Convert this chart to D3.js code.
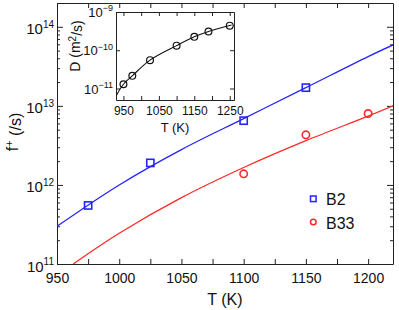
<!DOCTYPE html>
<html>
<head>
<meta charset="utf-8">
<script src="https://cdn.jsdelivr.net/npm/d3@7"></script>
<style>
  body { margin: 0; background: #fff; }
  svg { font-family: "Liberation Sans", Arial, sans-serif; }
  .axis path, .axis line { stroke: #222; }
</style>
</head>
<body>
<svg id="chart" width="399" height="310"></svg>
<script>
// main plot: attempt frequency vs temperature
var tB2 = [975, 1025, 1100, 1150];
var fB2 = [5.5e11, 1.9e12, 6.5e12, 1.7e13];
var tB33 = [1100, 1150, 1200];
var fB33 = [1.38e12, 4.3e12, 8.0e12];

// fitted curves
var fitB2T = [950, 1000, 1050, 1100, 1150, 1200, 1220];
var fitB2F = [3.0e11, 1.0e12, 2.8e12, 6.9e12, 1.7e13, 4.2e13, 5.9e13];
var fitB33T = [963, 1000, 1050, 1100, 1150, 1200, 1220];
var fitB33F = [1.0e11, 2.45e11, 6.9e11, 1.66e12, 3.63e12, 7.41e12, 1.0e13];

var xMajor = [950, 1000, 1050, 1100, 1150, 1200];
var xMinor = [975, 1025, 1075, 1125, 1175];
var yDecades = [1e11, 1e12, 1e13, 1e14];

// inset: diffusivity
var tD = [950, 975, 1025, 1100, 1150, 1190, 1250];
var dD = [1.29e-11, 2.14e-11, 5.5e-11, 1.32e-10, 2.24e-10, 3.1e-10, 4.4e-10];
var fitDT = [930, 950, 975, 1025, 1100, 1150, 1190, 1255];
var fitDD = [6.6e-12, 1.29e-11, 2.14e-11, 5.5e-11, 1.32e-10, 2.24e-10, 3.1e-10, 4.55e-10];
var insetXTicks = [950, 1050, 1150, 1250];
var insetXAll = [950, 1000, 1050, 1100, 1150, 1200, 1250];
var insetYTicks = [1e-11, 1e-10, 1e-9];

var svg = d3.select("#chart");
var blue = "#2424ff", red = "#ff2a2a";

var mL = 57, mT = 3, mR = 393, mB = 264;
var x = d3.scaleLinear().domain([950, 1220]).range([mL, mR]);
var y = d3.scaleLog().domain([1e11, 2.0e14]).range([mB, mT]);

// minor log ticks
var yMinor = [];
yDecades.forEach(function(d) {
    for (var k = 2; k < 10; k++) {
        var v = d * k;
        if (v < y.domain()[1]) yMinor.push(v);
    }
});

var defs = svg.append("defs");
defs.append("clipPath").attr("id", "clip")
    .append("rect").attr("x", mL).attr("y", mT)
    .attr("width", mR - mL).attr("height", mB - mT);

function supLabel(sel, base, size, supSize, dy) {
    sel.each(function(d) {
        var t = d3.select(this);
        var e = Math.round(Math.log10(d));
        t.text(null).attr("dy", dy).style("font-size", size + "px");
        t.append("tspan").text(base);
        t.append("tspan").attr("dy", "-0.62em").style("font-size", supSize + "px")
            .text(e < 0 ? "\u2212" + (-e) : e);
    });
}

// axes, ticks pointing inward
svg.append("g").attr("class", "axis").attr("transform", "translate(0," + mB + ")")
    .call(d3.axisBottom(x).tickValues(xMajor).tickSizeInner(-5).tickSizeOuter(0).tickPadding(9).tickFormat(d3.format("d")))
    .call(function(g) { g.selectAll("text").style("font-size", "14px").attr("fill", "#111"); });
svg.append("g").attr("class", "axis").attr("transform", "translate(0," + mB + ")")
    .call(d3.axisBottom(x).tickValues(xMinor).tickSize(-5).tickFormat(""))
    .select(".domain").remove();
svg.append("g").attr("class", "axis").attr("transform", "translate(0," + mT + ")")
    .call(d3.axisTop(x).tickValues(xMajor.concat(xMinor)).tickSizeInner(-5).tickSizeOuter(0).tickFormat(""));

var yl = svg.append("g").attr("class", "axis").attr("transform", "translate(" + mL + ",0)")
    .call(d3.axisLeft(y).tickValues(yDecades).tickSizeInner(-6).tickSizeOuter(0).tickPadding(3));
yl.selectAll("text").attr("fill", "#111").call(supLabel, "10", 15, 10, "0.47em");
svg.append("g").attr("class", "axis").attr("transform", "translate(" + mL + ",0)")
    .call(d3.axisLeft(y).tickValues(yMinor).tickSize(-3).tickFormat(""))
    .select(".domain").remove();
svg.append("g").attr("class", "axis").attr("transform", "translate(" + mR + ",0)")
    .call(d3.axisRight(y).tickValues(yDecades).tickSizeInner(-6).tickSizeOuter(0).tickFormat(""));
svg.append("g").attr("class", "axis").attr("transform", "translate(" + mR + ",0)")
    .call(d3.axisRight(y).tickValues(yMinor).tickSize(-3).tickFormat(""))
    .select(".domain").remove();

// axis titles
svg.append("text").attr("x", (mL + mR) / 2).attr("y", 305)
    .attr("text-anchor", "middle").style("font-size", "16px").attr("fill", "#111").text("T (K)");
var yt = svg.append("text").attr("transform", "translate(18,132) rotate(-90)")
    .attr("text-anchor", "middle").style("font-size", "16px").attr("fill", "#111");
yt.append("tspan").text("f");
yt.append("tspan").attr("dy", "-0.5em").style("font-size", "11px").text("+");
yt.append("tspan").attr("dy", "0.5em").text(" (/s)");

// fit lines
var line = d3.line().curve(d3.curveCatmullRom)
    .x(function(d) { return x(d[0]); }).y(function(d) { return y(d[1]); });
var plot = svg.append("g").attr("clip-path", "url(#clip)");
plot.append("path").datum(d3.zip(fitB2T, fitB2F)).attr("d", line)
    .attr("fill", "none").attr("stroke", blue).attr("stroke-width", 1.3);
plot.append("path").datum(d3.zip(fitB33T, fitB33F)).attr("d", line)
    .attr("fill", "none").attr("stroke", red).attr("stroke-width", 1.3);

// markers
svg.append("g").selectAll("rect").data(d3.zip(tB2, fB2)).enter().append("rect")
    .attr("x", function(d) { return x(d[0]) - 3.6; })
    .attr("y", function(d) { return y(d[1]) - 3.6; })
    .attr("width", 7.2).attr("height", 7.2)
    .attr("fill", "none").attr("stroke", blue).attr("stroke-width", 1.6);
svg.append("g").selectAll("circle").data(d3.zip(tB33, fB33)).enter().append("circle")
    .attr("cx", function(d) { return x(d[0]); })
    .attr("cy", function(d) { return y(d[1]); })
    .attr("r", 3.7)
    .attr("fill", "none").attr("stroke", red).attr("stroke-width", 1.6);

// legend
var lg = svg.append("g");
lg.append("rect").attr("x", 310.5).attr("y", 196).attr("width", 5.6).attr("height", 5.6)
    .attr("fill", "none").attr("stroke", blue).attr("stroke-width", 1.5);
lg.append("circle").attr("cx", 313.3).attr("cy", 222).attr("r", 2.8)
    .attr("fill", "none").attr("stroke", red).attr("stroke-width", 1.5);
lg.append("text").attr("x", 326).attr("y", 205).style("font-size", "16px").attr("fill", "#111").text("B2");
lg.append("text").attr("x", 326).attr("y", 228.5).style("font-size", "16px").attr("fill", "#111").text("B33");

// ---- inset ----
var iL = 116, iT = 12, iR = 234, iB = 100;
var ix = d3.scaleLinear().domain([929, 1262]).range([iL, iR]);
var iy = d3.scaleLog().domain([5e-12, 1e-9]).range([iB, iT]);

svg.append("rect").attr("x", iL).attr("y", iT).attr("width", iR - iL).attr("height", iB - iT)
    .attr("fill", "#fff");
defs.append("clipPath").attr("id", "iclip")
    .append("rect").attr("x", iL).attr("y", iT).attr("width", iR - iL).attr("height", iB - iT);

svg.append("g").attr("class", "axis").attr("transform", "translate(0," + iB + ")")
    .call(d3.axisBottom(ix).tickValues(insetXAll).tickSizeInner(-4).tickSizeOuter(0).tickPadding(6)
        .tickFormat(function(d) { return insetXTicks.indexOf(d) > -1 ? d : ""; }))
    .call(function(g) { g.selectAll("text").style("font-size", "12px").attr("fill", "#111"); });
svg.append("g").attr("class", "axis").attr("transform", "translate(0," + iT + ")")
    .call(d3.axisTop(ix).tickValues(insetXAll).tickSizeInner(-4).tickSizeOuter(0).tickFormat(""));
var iyl = svg.append("g").attr("class", "axis").attr("transform", "translate(" + iL + ",0)")
    .call(d3.axisLeft(iy).tickValues(insetYTicks).tickSizeInner(-4).tickSizeOuter(0).tickPadding(3));
iyl.selectAll("text").attr("fill", "#111").call(supLabel, "10", 13, 9, "0.35em");
svg.append("g").attr("class", "axis").attr("transform", "translate(" + iR + ",0)")
    .call(d3.axisRight(iy).tickValues(insetYTicks).tickSizeInner(-4).tickSizeOuter(0).tickFormat(""));

svg.append("text").attr("x", (iL + iR) / 2).attr("y", 132)
    .attr("text-anchor", "middle").style("font-size", "13px").attr("fill", "#111").text("T (K)");
var dt = svg.append("text").attr("transform", "translate(80,46) rotate(-90)")
    .attr("text-anchor", "middle").style("font-size", "14px").attr("fill", "#111");
dt.append("tspan").text("D (m");
dt.append("tspan").attr("dy", "-0.45em").style("font-size", "10px").text("2");
dt.append("tspan").attr("dy", "0.45em").text("/s)");

var iline = d3.line().curve(d3.curveCatmullRom)
    .x(function(d) { return ix(d[0]); }).y(function(d) { return iy(d[1]); });
svg.append("g").attr("clip-path", "url(#iclip)").append("path")
    .datum(d3.zip(fitDT, fitDD)).attr("d", iline)
    .attr("fill", "none").attr("stroke", "#111").attr("stroke-width", 1.1);
svg.append("g").selectAll("circle").data(d3.zip(tD, dD)).enter().append("circle")
    .attr("cx", function(d) { return ix(d[0]); })
    .attr("cy", function(d) { return iy(d[1]); })
    .attr("r", 3.4)
    .attr("fill", "none").attr("stroke", "#111").attr("stroke-width", 1.2);
</script>
</body>
</html>
